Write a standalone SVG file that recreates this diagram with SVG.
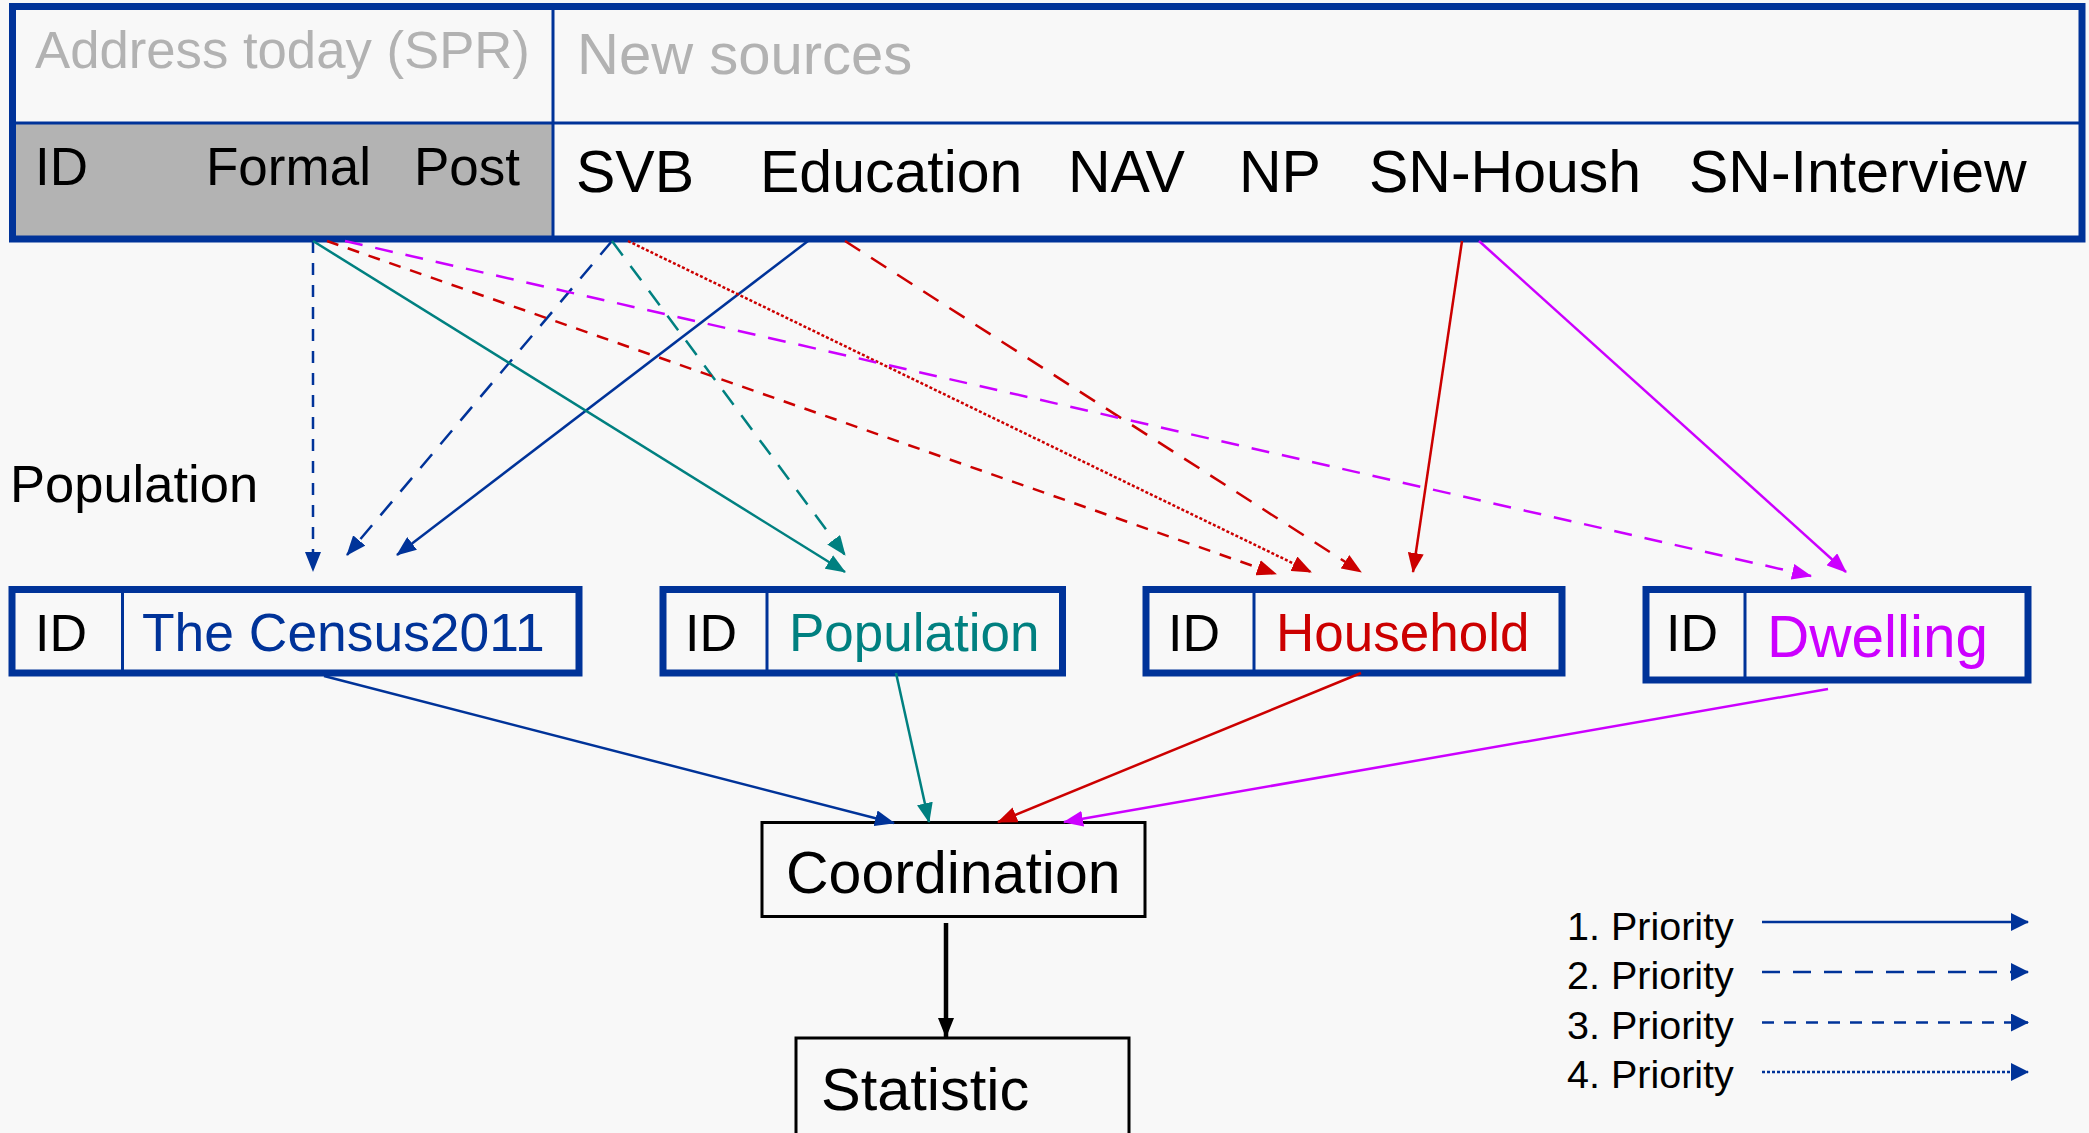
<svg xmlns="http://www.w3.org/2000/svg" width="2089" height="1133" viewBox="0 0 2089 1133">
<defs>
<style>
text{font-family:"Liberation Sans",Arial,sans-serif}
.hdr{fill:#b2b2b2}
.blk{fill:#000}
.box{fill:none;stroke:#003399;stroke-width:7}
.div{stroke:#003399;stroke-width:3}
.c{fill:none;stroke-width:2.5}
.blue{stroke:#003399}
.teal{stroke:#008080}
.red{stroke:#cc0000}
.mag{stroke:#cc00ff}
.p2{stroke-dasharray:18 13}
.p3{stroke-dasharray:12 10}
.p4{stroke-dasharray:3 2}
</style>
<marker id="aB" markerUnits="userSpaceOnUse" markerWidth="20" markerHeight="16" viewBox="0 0 20 16" refX="19" refY="8" orient="auto"><path d="M0,0 L20,8 L0,16 z" fill="#003399"/></marker>
<marker id="aT" markerUnits="userSpaceOnUse" markerWidth="20" markerHeight="16" viewBox="0 0 20 16" refX="19" refY="8" orient="auto"><path d="M0,0 L20,8 L0,16 z" fill="#008080"/></marker>
<marker id="aR" markerUnits="userSpaceOnUse" markerWidth="20" markerHeight="16" viewBox="0 0 20 16" refX="19" refY="8" orient="auto"><path d="M0,0 L20,8 L0,16 z" fill="#cc0000"/></marker>
<marker id="aM" markerUnits="userSpaceOnUse" markerWidth="20" markerHeight="16" viewBox="0 0 20 16" refX="19" refY="8" orient="auto"><path d="M0,0 L20,8 L0,16 z" fill="#cc00ff"/></marker>
<marker id="aL" markerUnits="userSpaceOnUse" markerWidth="18" markerHeight="18" viewBox="0 0 18 18" refX="17" refY="9" orient="auto"><path d="M0,0 L18,9 L0,18 z" fill="#003399"/></marker>
<marker id="aK" markerUnits="userSpaceOnUse" markerWidth="20" markerHeight="16" viewBox="0 0 20 16" refX="19" refY="8" orient="auto"><path d="M0,0 L20,8 L0,16 z" fill="#000"/></marker>
</defs>
<rect x="0" y="0" width="2089" height="1133" fill="#f8f8f8"/>

<g id="header">
<rect x="16" y="124" width="537" height="112" fill="#b3b3b3"/>
<line class="div" x1="12" y1="123" x2="2082" y2="123"/>
<line class="div" x1="553" y1="6" x2="553" y2="239"/>
<rect class="box" x="12.5" y="6.5" width="2069.5" height="232.5"/>
<text class="hdr" x="35" y="68" font-size="52.7">Address today (SPR)</text>
<text class="hdr" x="577" y="74" font-size="58">New sources</text>
<text class="blk" x="35" y="185" font-size="53">ID</text>
<text class="blk" x="206" y="185" font-size="53">Formal</text>
<text class="blk" x="414" y="185" font-size="53">Post</text>
<text class="blk" x="576" y="192" font-size="59">SVB</text>
<text class="blk" x="760" y="192" font-size="59">Education</text>
<text class="blk" x="1068" y="192" font-size="59">NAV</text>
<text class="blk" x="1239" y="192" font-size="59">NP</text>
<text class="blk" x="1369" y="192" font-size="59">SN-Housh</text>
<text class="blk" x="1689" y="192" font-size="59">SN-Interview</text>
</g>

<g id="label-population">
<text class="blk" x="10" y="502" font-size="52.5">Population</text>
</g>

<g id="node-census">
<rect class="box" x="12" y="589.5" width="567" height="83.5"/>
<line class="div" x1="122.5" y1="590" x2="122.5" y2="673"/>
<text class="blk" x="35" y="651" font-size="52">ID</text>
<text x="142" y="651" font-size="53.4" fill="#003399">The Census2011</text>
</g>

<g id="node-population">
<rect class="box" x="663" y="589.5" width="399.5" height="83.5"/>
<line class="div" x1="767" y1="590" x2="767" y2="673"/>
<text class="blk" x="685" y="651" font-size="52">ID</text>
<text x="789" y="651" font-size="53" fill="#008080">Population</text>
</g>

<g id="node-household">
<rect class="box" x="1146" y="589.5" width="416" height="83.5"/>
<line class="div" x1="1254" y1="590" x2="1254" y2="673"/>
<text class="blk" x="1168" y="651" font-size="52">ID</text>
<text x="1276" y="651" font-size="53" fill="#cc0000">Household</text>
</g>

<g id="node-dwelling">
<rect class="box" x="1646" y="589.5" width="382" height="90.5"/>
<line class="div" x1="1745" y1="590" x2="1745" y2="680"/>
<text class="blk" x="1666" y="651" font-size="52">ID</text>
<text x="1767" y="657" font-size="58.5" fill="#cc00ff">Dwelling</text>
</g>

<g id="node-coordination">
<rect x="762" y="822.5" width="383" height="94" fill="none" stroke="#000" stroke-width="3"/>
<text class="blk" x="786" y="893" font-size="59">Coordination</text>
</g>

<g id="node-statistic">
<rect x="796" y="1038" width="333" height="110" fill="none" stroke="#000" stroke-width="3"/>
<text class="blk" x="821" y="1110" font-size="59.5">Statistic</text>
</g>

<g id="connectors">
<line class="c blue p3" x1="313" y1="241" x2="313" y2="571" marker-end="url(#aB)"/>
<line class="c blue p2" x1="612" y1="241" x2="347" y2="555" marker-end="url(#aB)"/>
<line class="c blue" x1="808" y1="241" x2="397" y2="555" marker-end="url(#aB)"/>
<line class="c teal" x1="313" y1="241" x2="845" y2="572" marker-end="url(#aT)"/>
<line class="c teal p2" x1="612" y1="241" x2="845" y2="555" marker-end="url(#aT)"/>
<line class="c red p3" x1="327" y1="241" x2="1276" y2="574" marker-end="url(#aR)"/>
<line class="c red p4" x1="628" y1="241" x2="1311" y2="572" marker-end="url(#aR)"/>
<line class="c red p2" x1="845" y1="241" x2="1361" y2="572" marker-end="url(#aR)"/>
<line class="c red" x1="1462" y1="241" x2="1413" y2="572" marker-end="url(#aR)"/>
<line class="c mag p2" x1="345" y1="241" x2="1811" y2="576" marker-end="url(#aM)" stroke-width="3"/>
<line class="c mag" x1="1479" y1="241" x2="1846" y2="572" marker-end="url(#aM)"/>
<line class="c blue" x1="324" y1="676" x2="894" y2="823" marker-end="url(#aB)" stroke-width="3"/>
<line class="c teal" x1="896" y1="673" x2="929" y2="822" marker-end="url(#aT)"/>
<line class="c red" x1="1361" y1="673" x2="998" y2="822" marker-end="url(#aR)"/>
<line class="c mag" x1="1828" y1="689" x2="1064" y2="822" marker-end="url(#aM)" stroke-width="3.5"/>
<line x1="946" y1="923" x2="946" y2="1037" stroke="#000" stroke-width="4.5" marker-end="url(#aK)"/>
</g>

<g id="legend">
<text class="blk" x="1567" y="940" font-size="39.5">1. Priority</text>
<text class="blk" x="1567" y="989" font-size="39.5">2. Priority</text>
<text class="blk" x="1567" y="1039" font-size="39.5">3. Priority</text>
<text class="blk" x="1567" y="1088" font-size="39.5">4. Priority</text>
<line class="c blue" x1="1762" y1="922" x2="2028" y2="922" stroke-width="3" marker-end="url(#aL)"/>
<line class="c blue p2" x1="1762" y1="972" x2="2028" y2="972" stroke-width="3" marker-end="url(#aL)"/>
<line class="c blue p3" x1="1762" y1="1022.5" x2="2028" y2="1022.5" stroke-width="3" marker-end="url(#aL)"/>
<line class="c blue p4" x1="1762" y1="1072" x2="2028" y2="1072" stroke-width="3" marker-end="url(#aL)"/>
</g>
</svg>
